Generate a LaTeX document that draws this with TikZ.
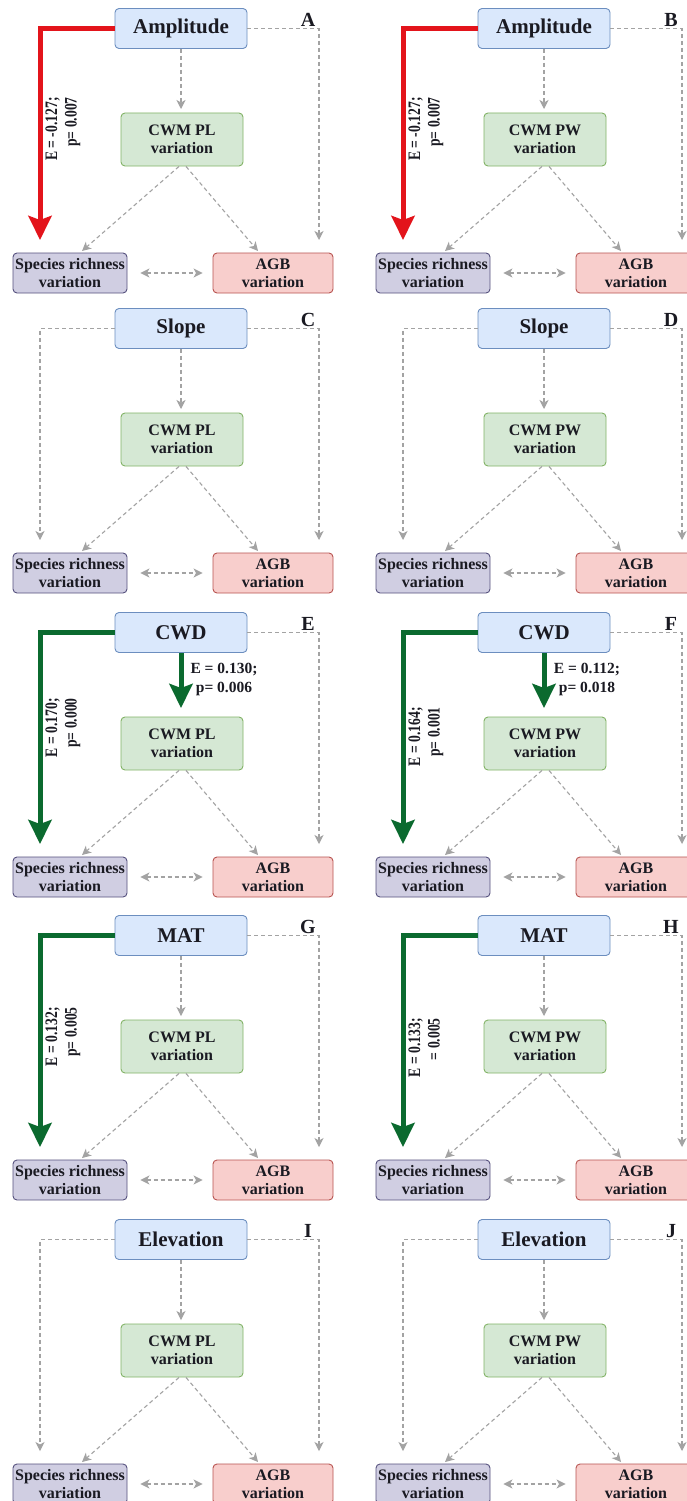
\documentclass[tikz,border=0pt]{standalone}
\usepackage{fontspec}
\setmainfont{Liberation Serif}
\usetikzlibrary{arrows.meta}
\definecolor{topfill}{HTML}{DAE8FC}
\definecolor{topdraw}{HTML}{6C8EBF}
\definecolor{midfill}{HTML}{D5E8D4}
\definecolor{middraw}{HTML}{82B366}
\definecolor{srfill}{HTML}{D0CEE2}
\definecolor{srdraw}{HTML}{56517E}
\definecolor{agbfill}{HTML}{F8CECC}
\definecolor{agbdraw}{HTML}{B85450}
\definecolor{sigred}{HTML}{E3141B}
\definecolor{siggreen}{HTML}{0B6A2F}
\definecolor{dgray}{HTML}{A3A3A3}
\definecolor{txt}{HTML}{1A1A22}
\tikzset{
  box/.style={rounded corners=4pt, line width=0.9pt, align=center, inner sep=0pt,
    text=txt, font=\bfseries\fontsize{16}{18}\selectfont},
  topbox/.style={box, fill=topfill, draw=topdraw, minimum width=132pt, minimum height=40pt,
    font=\bfseries\fontsize{21}{24}\selectfont},
  midbox/.style={box, fill=midfill, draw=middraw, minimum width=122pt, minimum height=53pt},
  srbox/.style={box, fill=srfill, draw=srdraw, minimum width=114pt, minimum height=40pt},
  agbbox/.style={box, fill=agbfill, draw=agbdraw, minimum width=120pt, minimum height=40pt},
  letterlab/.style={font=\bfseries\fontsize{20}{24}\selectfont, text=txt, inner sep=0pt},
  dasharrow/.style={draw=dgray, line width=1.1pt, dash pattern=on 4pt off 3pt,
    -{Stealth[length=9pt 0, width=9pt 0, inset=2.5pt, fill=dgray]}},
  dashboth/.style={draw=dgray, line width=1.1pt, dash pattern=on 4pt off 3pt,
    {Stealth[length=9pt 0, width=9pt 0, inset=2.5pt, fill=dgray]}-{Stealth[length=9pt 0, width=9pt 0, inset=2.5pt, fill=dgray]}},
  redarrow/.style={draw=sigred, line width=5pt,
    -{Stealth[length=24pt 0, width=23pt 0, inset=4pt, fill=sigred]}},
  greenarrow/.style={draw=siggreen, line width=5pt,
    -{Stealth[length=24pt 0, width=23pt 0, inset=4pt, fill=siggreen]}},
  rotlab/.style={rotate=90, inner sep=0pt, text=txt, font=\bfseries\fontsize{17.5}{19.5}\selectfont},
  hlab/.style={inner sep=0pt, align=center, text=txt, font=\bfseries\fontsize{15.5}{19}\selectfont},
}
\newcommand\drawpanel[6]{%
  \begin{scope}[shift={(#2,#3)}]
    \node[topbox] (t#1) at (181,28.5) {#4};
    \node[midbox] (m#1) at (182,139.5) {#5\\variation};
    \node[srbox] (s#1) at (70,273) {Species richness\\variation};
    \node[agbbox] (g#1) at (273,273) {AGB\\variation};
    \node[letterlab] (L#1) at (308,20) {#6};
    \coordinate (rb#1) at (319,240);
    \coordinate (lb#1) at (40,240);
    \coordinate (mt#1) at (181,109);
    \coordinate (gt#1) at (181,104);
    \coordinate (sl#1) at (82,251);
    \coordinate (gl#1) at (258,251);
  \end{scope}
  \draw[dasharrow] ([xshift=-3pt]m#1.south) -- (sl#1);
  \draw[dasharrow] ([xshift=4pt]m#1.south) -- (gl#1);
  \draw[dashboth] ([xshift=13pt]s#1.east) -- ([xshift=-10pt]g#1.west);
  \draw[dasharrow] (t#1.east) -| (rb#1);
}
\newcommand\rotlabel[4]{%
  \node[rotlab, anchor=east] (#1) at (#2) {\scalebox{0.78}[1]{\begin{tabular}{@{}r@{}}#3\\#4\end{tabular}}};
}
\begin{document}
\begin{tikzpicture}[x=1pt,y=-1pt]
\useasboundingbox (0,0) rectangle (687,1501);
\fill[white] (0,0) rectangle (687,1501);
% A
\drawpanel{A}{0}{0}{Amplitude}{CWM PL}{A}
\draw[redarrow] (tA.west) -| (lbA);
\draw[dasharrow] (tA.south) -- (mtA);
\rotlabel{eA}{63,97}{E = -0.127;}{p= 0.007}
% B
\drawpanel{B}{363}{0}{Amplitude}{CWM PW}{B}
\draw[redarrow] (tB.west) -| (lbB);
\draw[dasharrow] (tB.south) -- (mtB);
\rotlabel{eB}{426,97}{E = -0.127;}{p= 0.007}
% C
\drawpanel{C}{0}{300}{Slope}{CWM PL}{C}
\draw[dasharrow] (tC.west) -| (lbC);
\draw[dasharrow] (tC.south) -- (mtC);
% D
\drawpanel{D}{363}{300}{Slope}{CWM PW}{D}
\draw[dasharrow] (tD.west) -| (lbD);
\draw[dasharrow] (tD.south) -- (mtD);
% E
\drawpanel{E}{0}{604}{CWD}{CWM PL}{E}
\draw[greenarrow] (tE.west) -| (lbE);
\draw[greenarrow] (tE.south) -- (gtE);
\rotlabel{eE}{63,698}{E = 0.170;}{p= 0.000}
\node[hlab] (hE) at (224,679) {E = 0.130;\\p= 0.006};
% F
\drawpanel{F}{363}{604}{CWD}{CWM PW}{F}
\draw[greenarrow] (tF.west) -| (lbF);
\draw[greenarrow] (tF.south) -- (gtF);
\rotlabel{eF}{426,707}{E = 0.164;}{p= 0.001}
\node[hlab] (hF) at (587,679) {E = 0.112;\\p= 0.018};
% G
\drawpanel{G}{0}{907}{MAT}{CWM PL}{G}
\draw[greenarrow] (tG.west) -| (lbG);
\draw[dasharrow] (tG.south) -- (mtG);
\rotlabel{eG}{63,1007}{E = 0.132;}{p= 0.005}
% H
\drawpanel{H}{363}{907}{MAT}{CWM PW}{H}
\draw[greenarrow] (tH.west) -| (lbH);
\draw[dasharrow] (tH.south) -- (mtH);
\rotlabel{eH}{426,1018}{E = 0.133;}{= 0.005}
% I
\drawpanel{I}{0}{1211}{Elevation}{CWM PL}{I}
\draw[dasharrow] (tI.west) -| (lbI);
\draw[dasharrow] (tI.south) -- (mtI);
% J
\drawpanel{J}{363}{1211}{Elevation}{CWM PW}{J}
\draw[dasharrow] (tJ.west) -| (lbJ);
\draw[dasharrow] (tJ.south) -- (mtJ);
\end{tikzpicture}
\end{document}
